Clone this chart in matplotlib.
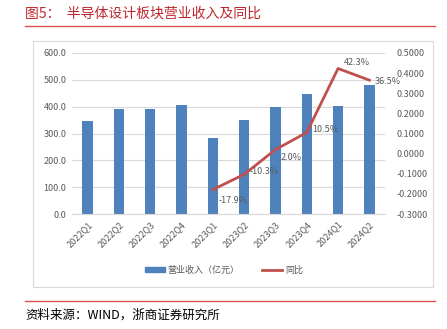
import matplotlib.pyplot as plt
import numpy as np

plt.rcParams['font.family'] = ['Noto Sans CJK SC', 'DejaVu Sans']

quarters = ['2022Q1', '2022Q2', '2022Q3', '2022Q4', '2023Q1', '2023Q2',
            '2023Q3', '2023Q4', '2024Q1', '2024Q2']
revenue = [346, 392, 390, 405, 285, 351, 398, 447, 404, 480]
yoy_quarters = quarters[4:]
yoy = [-0.179, -0.103, 0.020, 0.105, 0.423, 0.365]
yoy_labels = ['-17.9%', '-10.3%', '2.0%', '10.5%', '42.3%', '36.5%']

bar_color = '#4F81BD'
line_color = '#C0504D'
tick_color = '#595959'

fig = plt.figure(figsize=(4.47, 3.29), dpi=100)

# title and header rule
fig.text(25 / 447, 1 - 14 / 329, '图5：  半导体设计板块营业收入及同比', color='#C0272D',
         fontsize=10, va='center', ha='left')
fig.add_artist(plt.Line2D([25 / 447, 435 / 447], [1 - 26 / 329, 1 - 26 / 329],
                          color='#D9534F', lw=1.0))

# chart frame
fig.add_artist(plt.Rectangle((33 / 447, 1 - 287 / 329), 400 / 447, 246 / 329,
                             fill=False, ec='#D9D9D9', lw=0.8))

ax = fig.add_axes([72 / 447, 1 - 214 / 329, 313 / 447, 161 / 329])
x = np.arange(len(quarters))
ax.bar(x, revenue, width=0.33, color=bar_color, zorder=2, label='营业收入（亿元）')
ax.set_ylim(0, 600)
ax.set_yticks(np.arange(0, 601, 100))
ax.set_yticklabels([f'{v:.1f}' for v in np.arange(0, 601, 100)])
ax.set_xlim(-0.5, len(quarters) - 0.5)
ax.set_xticks(x)
ax.set_xticklabels(quarters, rotation=45, ha='right', rotation_mode='anchor')
ax.grid(axis='y', color='#D9D9D9', lw=0.8, zorder=0)
for s in ax.spines.values():
    s.set_visible(False)
ax.spines['bottom'].set_visible(True)
ax.spines['bottom'].set_color('#D9D9D9')
ax.tick_params(axis='both', length=0, labelsize=6.5, colors=tick_color, pad=4)

ax2 = ax.twinx()
xi = [quarters.index(q) for q in yoy_quarters]
ax2.plot(xi, yoy, color=line_color, lw=2, zorder=3, label='同比')
ax2.set_ylim(-0.3, 0.5)
ax2.set_yticks(np.arange(-0.3, 0.501, 0.1))
ax2.set_yticklabels([f'{v:.4f}' for v in np.arange(-0.3, 0.501, 0.1)])
for s in ax2.spines.values():
    s.set_visible(False)
ax2.tick_params(axis='y', length=0, labelsize=6.5, colors=tick_color, pad=8)

offsets = [(4, -8), (4, 2), (4, -6), (4, 2), (4, 4), (4, -1)]
for xx, yy, lab, (dx, dy) in zip(xi, yoy, yoy_labels, offsets):
    ax2.annotate(lab, (xx, yy), xytext=(dx, dy), textcoords='offset points',
                 fontsize=6.5, color=tick_color, va='center', ha='left')

handles = [plt.Rectangle((0, 0), 1, 1, color=bar_color),
           plt.Line2D([0], [0], color=line_color, lw=2)]
fig.legend(handles, ['营业收入（亿元）', '同比'], loc='center',
           bbox_to_anchor=(224 / 447, 1 - 270 / 329), ncol=2, frameon=False,
           fontsize=6.5, labelcolor=tick_color, handlelength=2.2,
           handleheight=0.5, columnspacing=2.5, handletextpad=0.3)

# footer rule and source
fig.add_artist(plt.Line2D([25 / 447, 435 / 447], [1 - 301 / 329, 1 - 301 / 329],
                          color='#D9534F', lw=1.0))
fig.text(25 / 447, 1 - 315 / 329, '资料来源：WIND，浙商证券研究所', color='black',
         fontsize=9, va='center', ha='left')

fig.savefig('out.png', dpi=100)
